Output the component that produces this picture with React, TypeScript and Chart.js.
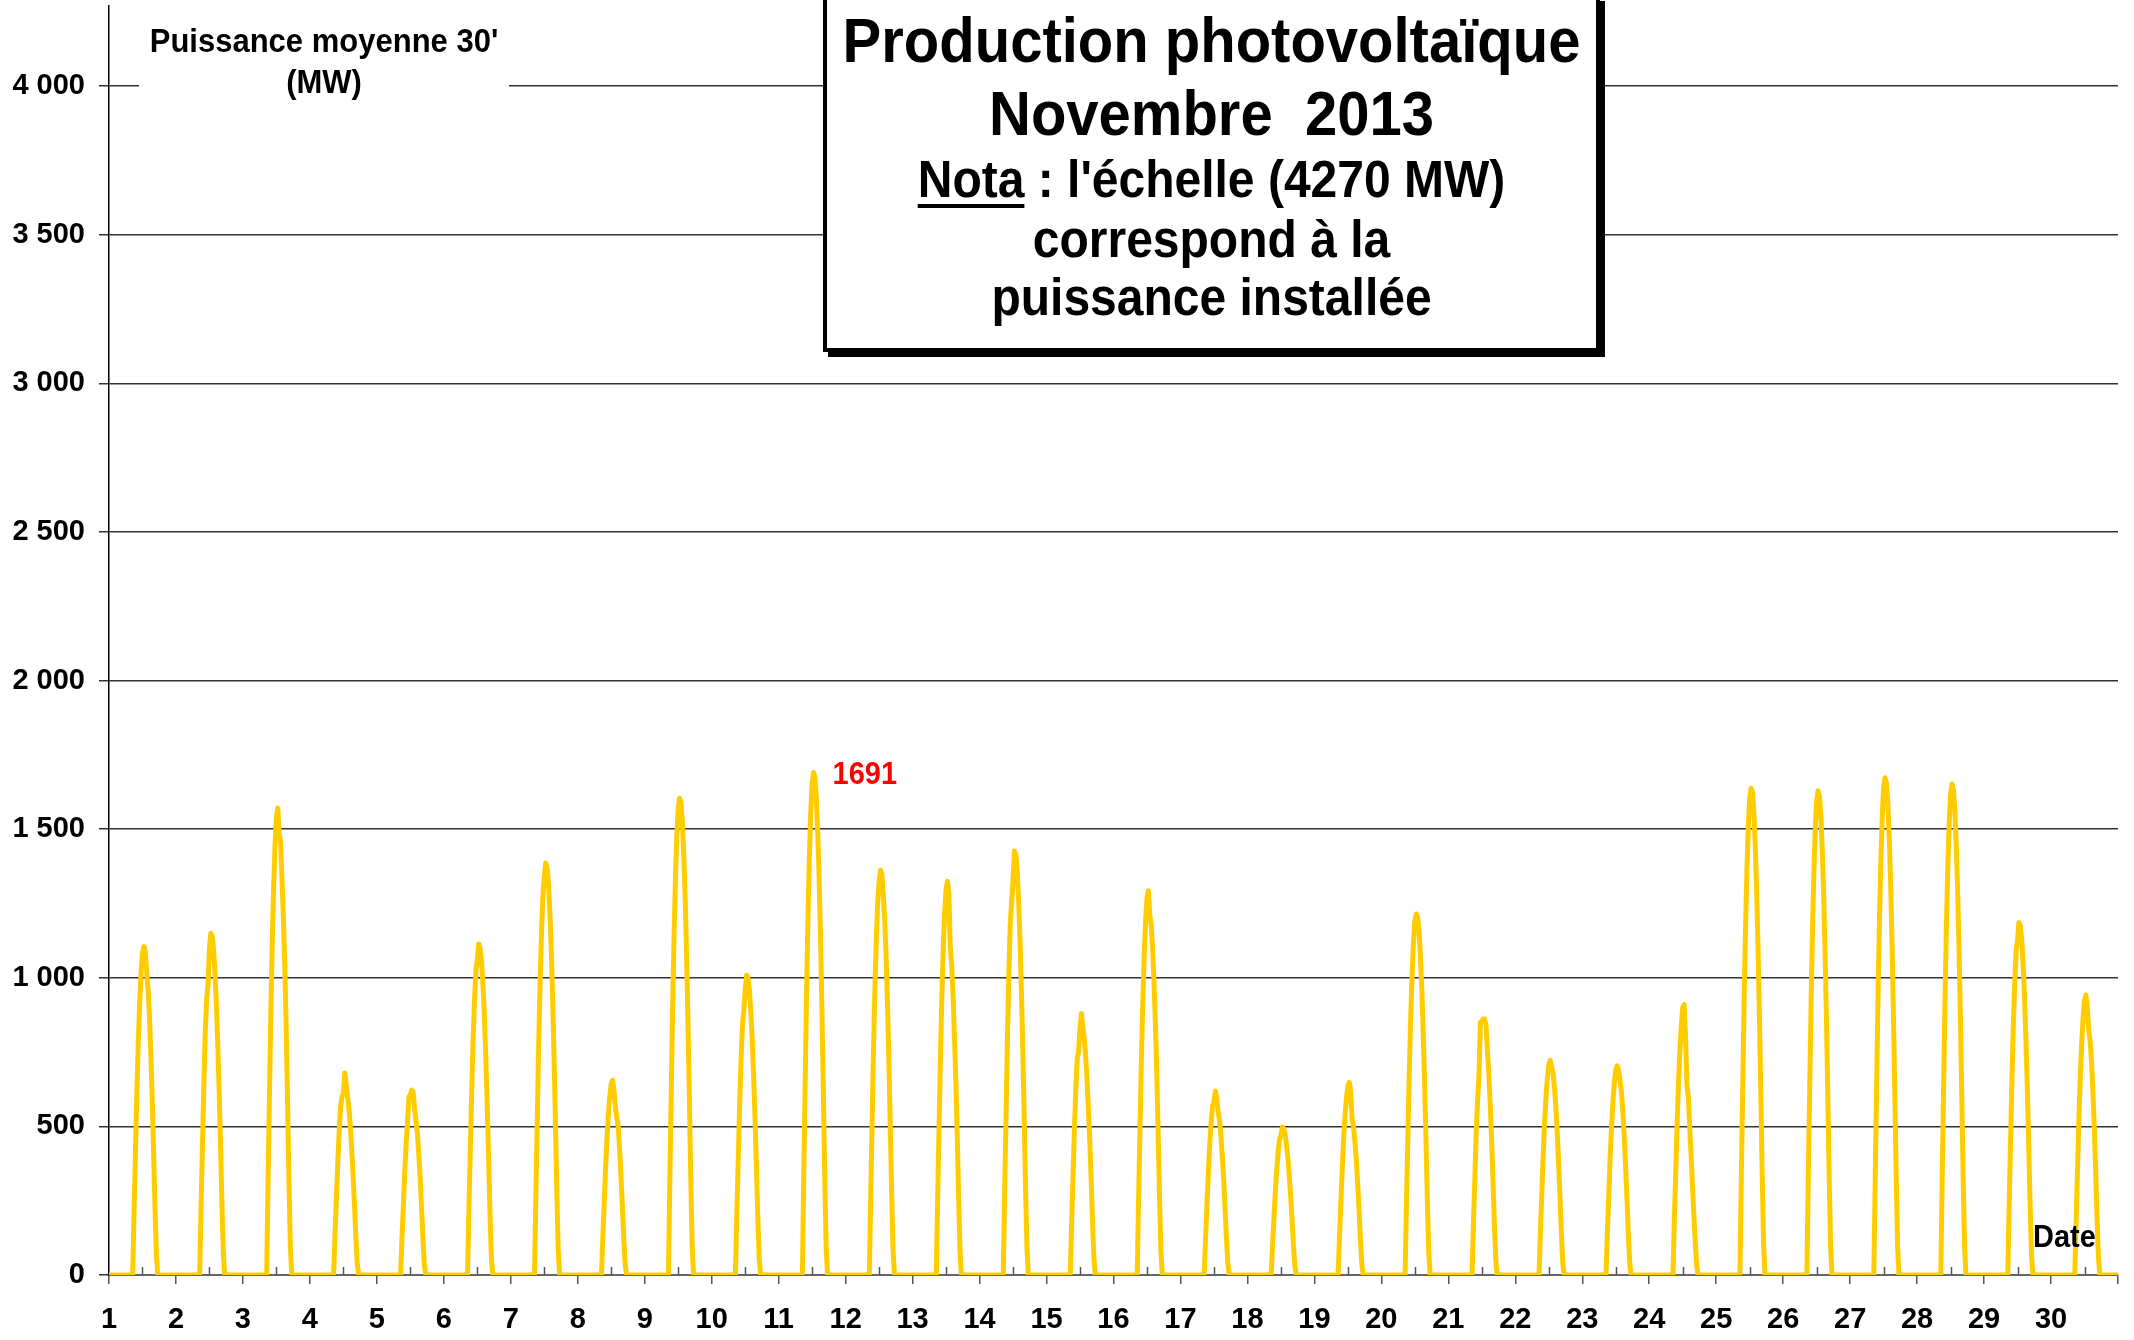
import React, { useEffect, useRef } from "react";
import { Chart, registerables } from "chart.js";

Chart.register(...registerables);

// ---- data -------------------------------------------------------------
const days = [1, 2, 3, 4, 5, 6, 7, 8, 9, 10, 11, 12, 13, 14, 15, 16, 17, 18, 19, 20, 21, 22, 23, 24, 25, 26, 27, 28, 29, 30];
const dayTickValues = [1, 2, 3, 4, 5, 6, 7, 8, 9, 10, 11, 12, 13, 14, 15, 16, 17, 18, 19, 20, 21, 22, 23, 24, 25, 26, 27, 28, 29, 30, 31];
const yTickValues = [0, 500, 1000, 1500, 2000, 2500, 3000, 3500, 4000];
const installedMW = 4270;
const slotsPerDay = 48; // half-hour averages
const firstSunSlot = 18; // 09:00 ; values below run 09:00 .. 17:00
// half-hourly mean power (MW), 09:00 to 17:00, one row per day of November 2013
const daytimeMW: number[][] = [
  [221, 420, 619, 785, 917, 1017, 1083, 1105, 1090, 1020, 960, 873, 740, 586, 409, 221, 66],
  [230, 437, 644, 817, 930, 975, 1100, 1150, 1139, 1093, 1012, 909, 771, 610, 426, 230, 69],
  [314, 597, 880, 1115, 1304, 1445, 1540, 1571, 1480, 1460, 1330, 1200, 1040, 833, 581, 314, 94],
  [136, 258, 381, 483, 564, 600, 610, 680, 640, 600, 560, 500, 420, 330, 230, 120, 36],
  [124, 236, 348, 442, 516, 600, 605, 622, 617, 560, 520, 480, 410, 330, 230, 124, 37],
  [223, 423, 624, 791, 925, 1025, 1060, 1114, 1100, 1058, 980, 880, 746, 590, 412, 223, 67],
  [277, 527, 776, 984, 1150, 1275, 1340, 1386, 1372, 1317, 1220, 1095, 929, 735, 513, 277, 83],
  [131, 249, 367, 466, 545, 604, 643, 656, 620, 560, 530, 500, 420, 330, 230, 120, 36],
  [321, 610, 898, 1139, 1331, 1476, 1572, 1604, 1588, 1524, 1412, 1267, 1075, 850, 593, 321, 96],
  [202, 383, 565, 716, 837, 891, 960, 1009, 999, 959, 888, 797, 676, 535, 373, 202, 61],
  [338, 643, 947, 1201, 1404, 1556, 1657, 1691, 1674, 1606, 1488, 1336, 1133, 896, 626, 338, 101],
  [272, 518, 763, 967, 1130, 1253, 1325, 1362, 1348, 1278, 1199, 1076, 913, 722, 504, 272, 82],
  [265, 504, 742, 941, 1100, 1219, 1299, 1325, 1280, 1104, 1046, 940, 800, 650, 470, 260, 80],
  [285, 542, 799, 1013, 1184, 1255, 1330, 1427, 1413, 1356, 1256, 1127, 956, 756, 528, 285, 86],
  [176, 334, 493, 625, 730, 750, 830, 880, 832, 800, 740, 660, 560, 450, 320, 176, 53],
  [259, 491, 724, 918, 1073, 1190, 1267, 1293, 1209, 1180, 1100, 990, 850, 685, 478, 259, 78],
  [124, 235, 347, 440, 514, 569, 580, 619, 600, 548, 520, 470, 400, 320, 220, 120, 36],
  [100, 189, 279, 354, 413, 455, 470, 498, 493, 473, 438, 393, 334, 264, 184, 100, 30],
  [130, 246, 363, 460, 538, 596, 635, 648, 620, 524, 500, 450, 390, 310, 220, 120, 36],
  [243, 462, 680, 863, 1008, 1118, 1191, 1215, 1203, 1154, 1069, 960, 814, 644, 450, 243, 73],
  [172, 327, 482, 590, 675, 850, 855, 861, 861, 840, 758, 680, 577, 456, 319, 172, 52],
  [144, 274, 404, 513, 599, 664, 708, 722, 700, 681, 635, 570, 484, 383, 267, 144, 43],
  [141, 268, 394, 500, 584, 648, 690, 704, 690, 658, 620, 556, 472, 373, 260, 141, 42],
  [182, 346, 510, 646, 755, 837, 900, 910, 803, 640, 600, 500, 400, 300, 200, 110, 33],
  [328, 622, 917, 1163, 1360, 1507, 1605, 1638, 1622, 1556, 1441, 1294, 1097, 868, 606, 328, 98],
  [326, 619, 912, 1157, 1352, 1499, 1596, 1629, 1613, 1548, 1434, 1287, 1091, 863, 603, 326, 98],
  [335, 636, 937, 1188, 1389, 1539, 1640, 1673, 1656, 1589, 1472, 1322, 1121, 887, 619, 335, 100],
  [330, 628, 925, 1173, 1371, 1520, 1619, 1652, 1635, 1569, 1454, 1305, 1107, 876, 611, 330, 99],
  [237, 451, 664, 842, 984, 1091, 1128, 1186, 1174, 1127, 1044, 937, 795, 629, 439, 237, 71],
  [188, 358, 528, 669, 782, 867, 923, 942, 900, 826, 790, 720, 620, 500, 350, 188, 57],
];
const titleLines = ["Production photovoltaïque", "Novembre  2013"];
const notaWord = "Nota";
const notaRest = " : l'échelle (4270 MW)";
const noteLines = ["correspond à la", "puissance installée"];
const unitLines = ["Puissance moyenne 30'", "(MW)"];
const xAxisName = "Date";

// ---- build series from the arrays --------------------------------------
function buildSeries() {
  const pts: { x: number; y: number }[] = [];
  days.forEach((d, di) => {
    const row = daytimeMW[di];
    for (let s = 0; s < slotsPerDay; s++) {
      const k = s - firstSunSlot;
      const v = k >= 0 && k < row.length ? row[k] : 0;
      pts.push({ x: d + s / slotsPerDay, y: v });
    }
  });
  pts.push({ x: dayTickValues[dayTickValues.length - 1], y: 0 });
  return pts;
}

const FONT = '"Liberation Sans", Arial, Helvetica, sans-serif';

function txt(ctx: CanvasRenderingContext2D, s: string, x: number, y: number, size: number, color: string, align: CanvasTextAlign, sy = 1) {
  ctx.save();
  ctx.translate(x, y);
  ctx.scale(1, sy);
  ctx.font = `bold ${size}px ${FONT}`;
  ctx.fillStyle = color;
  ctx.textAlign = align;
  ctx.textBaseline = "alphabetic";
  ctx.fillText(s, 0, 0);
  ctx.restore();
}

const overlayPlugin = {
  id: "overlay",
  afterDatasetsDraw(chart: any) {
    const ctx: CanvasRenderingContext2D = chart.ctx;
    const xs = chart.scales.x;
    const { bottom } = chart.chartArea;
    ctx.save();
    ctx.strokeStyle = "#555";
    ctx.lineWidth = 1.5;
    days.forEach((d) => {
      const px = Math.round(xs.getPixelForValue(d + 0.5)) + 0.5;
      ctx.beginPath();
      ctx.moveTo(px, bottom);
      ctx.lineTo(px, bottom - 8);
      ctx.stroke();
    });
    ctx.restore();
  },
  afterDraw(chart: any) {
    const ctx: CanvasRenderingContext2D = chart.ctx;
    const xs = chart.scales.x;
    const ys = chart.scales.y;
    const { right, bottom } = chart.chartArea;

    // unit label with white background
    ctx.save();
    ctx.fillStyle = "#fff";
    ctx.fillRect(139, 10, 370, 92);
    ctx.restore();
    txt(ctx, unitLines[0], 324, 52, 31, "#000", "center", 1.05);
    txt(ctx, unitLines[1], 324, 93, 31, "#000", "center", 1.05);

    // title box with shadow
    const bx = 823, by = -4, bw = 777, bh = 356;
    ctx.save();
    ctx.fillStyle = "#000";
    ctx.fillRect(bx + 5, by + 5, bw, bh);
    ctx.fillStyle = "#fff";
    ctx.fillRect(bx, by, bw, bh);
    ctx.lineWidth = 4;
    ctx.strokeStyle = "#000";
    ctx.strokeRect(bx + 2, by + 2, bw - 4, bh - 4);
    ctx.restore();
    const cx = bx + bw / 2;
    txt(ctx, titleLines[0], cx, 62, 58, "#000", "center", 1.08);
    txt(ctx, titleLines[1], cx, 135, 58, "#000", "center", 1.08);
    // Nota line with underline
    ctx.save();
    ctx.font = `bold 48px ${FONT}`;
    const wN = ctx.measureText(notaWord).width;
    const wR = ctx.measureText(notaRest).width;
    ctx.restore();
    const sx = cx - (wN + wR) / 2;
    txt(ctx, notaWord, sx, 197, 48, "#000", "left", 1.08);
    txt(ctx, notaRest, sx + wN, 197, 48, "#000", "left", 1.08);
    ctx.save();
    ctx.fillStyle = "#000";
    ctx.fillRect(sx, 204, wN, 4);
    ctx.restore();
    txt(ctx, noteLines[0], cx, 257, 48, "#000", "center", 1.08);
    txt(ctx, noteLines[1], cx, 315, 48, "#000", "center", 1.08);

    // max label next to highest point
    const ds = chart.data.datasets[0].data as { x: number; y: number }[];
    let best = ds[0];
    ds.forEach((p) => { if (p.y > best.y) best = p; });
    const mx = xs.getPixelForValue(best.x);
    const my = ys.getPixelForValue(best.y);
    txt(ctx, String(best.y), mx + 19, my + 12, 29, "#ff0000", "left", 1.05);

    // axis name
    txt(ctx, xAxisName, right - 85, bottom - 28, 29, "#000", "left", 1.05);
  },
};

export default function App() {
  const ref = useRef<HTMLCanvasElement | null>(null);
  useEffect(() => {
    if (!ref.current) return;
    const chart = new Chart(ref.current, {
      type: "line",
      data: {
        datasets: [
          {
            data: buildSeries(),
            borderColor: "#FFCC00",
            borderWidth: 5,
            pointRadius: 0,
            tension: 0,
            fill: false,
            borderJoinStyle: "round",
          },
        ],
      },
      options: {
        animation: false,
        responsive: false,
        devicePixelRatio: 1,
        parsing: false,
        normalized: true,
        layout: { padding: { top: 6, right: 16, left: 0, bottom: 0 } },
        plugins: { legend: { display: false }, tooltip: { enabled: false }, title: { display: false } },
        scales: {
          x: {
            type: "linear",
            min: dayTickValues[0],
            max: dayTickValues[dayTickValues.length - 1],
            afterBuildTicks: (scale: any) => {
              scale.ticks = dayTickValues.map((v) => ({ value: v }));
            },
            afterFit: (scale: any) => {
              scale.height = 65;
              scale.paddingLeft = 0;
              scale.paddingRight = 0;
            },
            ticks: {
              autoSkip: false,
              maxRotation: 0,
              minRotation: 0,
              padding: 19,
              color: "#000",
              font: { family: FONT, size: 29, weight: "bold" },
              callback: (v: any) => (days.includes(Number(v)) ? String(v) : ""),
            },
            grid: { drawOnChartArea: false, drawTicks: true, tickLength: 9, color: "#555", lineWidth: 1.5 },
            border: { display: true, color: "#666", width: 2 },
          },
          y: {
            type: "linear",
            min: 0,
            max: installedMW,
            afterBuildTicks: (scale: any) => {
              scale.ticks = yTickValues.map((v) => ({ value: v }));
            },
            afterFit: (scale: any) => {
              scale.width = 109;
              scale.paddingTop = 0;
              scale.paddingBottom = 0;
            },
            ticks: {
              padding: 14,
              color: "#000",
              font: { family: FONT, size: 29, weight: "bold" },
              callback: (v: any) => {
                const n = Number(v);
                if (n < 1000) return String(n);
                const th = Math.floor(n / 1000);
                const rest = String(n % 1000).padStart(3, "0");
                return th + " " + rest;
              },
            },
            grid: { color: "#333", lineWidth: 1.5, tickLength: 10, drawTicks: true },
            border: { display: true, color: "#000", width: 1.5 },
          },
        },
      },
      plugins: [overlayPlugin],
    } as any);
    return () => chart.destroy();
  }, []);
  return (
    <div style={{ position: "absolute", left: 0, top: 0, width: 2134, height: 1340, background: "#fff" }}>
      <canvas ref={ref} width={2134} height={1340} style={{ width: 2134, height: 1340, display: "block" }} />
    </div>
  );
}
